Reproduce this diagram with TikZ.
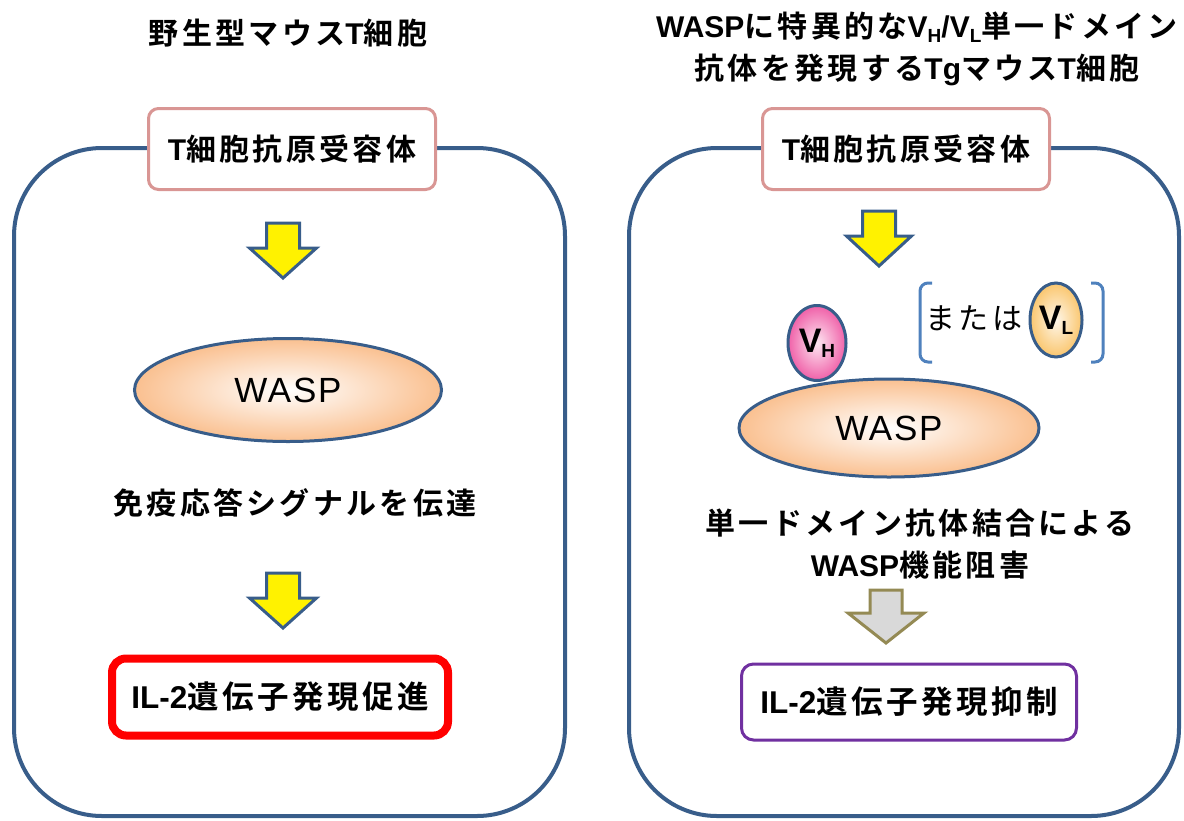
\documentclass[tikz,border=0pt]{standalone}
\usepackage{fontspec}
\setmainfont{Noto Sans CJK JP}[LetterSpace=11,BoldFont={Noto Sans CJK JP Bold}]
\newfontfamily\arialf{Liberation Sans}
\newfontfamily\arialsp{Liberation Sans}[LetterSpace=5]
\usetikzlibrary{shapes.geometric}
\definecolor{frameblue}{HTML}{385D8A}
\definecolor{pinkb}{HTML}{D99694}
\definecolor{purpleb}{HTML}{7030A0}
\definecolor{bracketb}{HTML}{4F81BD}
\definecolor{grayfill}{HTML}{D9D9D9}
\definecolor{olive}{HTML}{948A54}
\definecolor{peach}{HTML}{FAC090}
\definecolor{vhpink}{RGB}{240,96,168}
\definecolor{vlorange}{RGB}{250,198,110}
\newcommand\sub[1]{\raisebox{-5pt}{\fontsize{19}{19}\selectfont #1}}
\newcommand\lt[1]{{\arialf\bfseries #1}}
\newcommand\blockarrow[7]{\draw[#1] ({#2-#4},#3) -- ({#2+#4},#3) -- ({#2+#4},{#3+#6}) -- ({#2+#5},{#3+#6}) -- (#2,{#3+#7}) -- ({#2-#5},{#3+#6}) -- ({#2-#4},{#3+#6}) -- cycle;}
\tikzset{
  cellframe/.style={draw=frameblue, line width=4pt, rounded corners=88pt},
  txt/.style={font=\bfseries\fontsize{30}{42}\selectfont, align=center, inner sep=0pt},
  bigtxt/.style={font=\bfseries\fontsize{31.5}{42}\selectfont, align=center, inner sep=0pt},
  topbox/.style={draw=pinkb, line width=3pt, fill=white, rounded corners=10pt, minimum width=287pt, minimum height=81pt, txt},
  waspell/.style={ellipse, draw=frameblue, line width=3pt, inner color=white, outer color=peach, font=\arialsp\fontsize{35}{40}\selectfont},
  yarrow/.style={draw=frameblue, line width=3pt, fill=yellow, miter limit=10},
  garrow/.style={draw=olive, line width=3pt, fill=grayfill},
  vell/.style={ellipse, draw=frameblue, line width=3pt, minimum width=58pt, minimum height=75pt, inner sep=0pt, font=\arialf\bfseries\fontsize{34}{40}\selectfont},
  bracketline/.style={draw=bracketb, line width=3pt, rounded corners=8pt},
}
\begin{document}
\begin{tikzpicture}[x=1pt,y=-1pt]
\useasboundingbox (0,0) rectangle (1184,820);
% cell frames
\draw[cellframe] (14,148) rectangle (565,816);
\draw[cellframe] (629,148) rectangle (1179,816);
% titles
\node[txt] (titleL) at (288,33) {野生型マウス\lt{T}細胞};
\node[txt] (titleR) at (917,49) {\lt{WASP}に特異的な\lt{V\sub{H}/V\sub{L}}単一ドメイン\\抗体を発現する\lt{Tg}マウス\lt{T}細胞};
% left panel
\node[topbox] (tcrL) at (292,149) {\lt{T}細胞抗原受容体};
\blockarrow{yarrow}{283}{223}{16.5}{33.5}{25}{55}
\node[waspell, minimum width=307pt, minimum height=103pt] (waspL) at (288,390) {WASP};
\node[txt] (sigL) at (295,503) {免疫応答シグナルを伝達};
\blockarrow{yarrow}{283}{573}{16.5}{33.5}{25}{55}
\node[bigtxt, draw=red, line width=8pt, rounded corners=14pt, minimum width=336pt, minimum height=77pt] (il2L) at (280,697) {\lt{IL-2}遺伝子発現促進};
% right panel
\node[topbox] (tcrR) at (906,149) {\lt{T}細胞抗原受容体};
\blockarrow{yarrow}{879}{211}{16.5}{32.5}{25}{55}
\node[waspell, minimum width=300pt, minimum height=98pt] (waspR) at (889,428) {WASP};
\node[vell, inner color=vhpink!15, outer color=vhpink] (vh) at (817,343) {V\sub{H}};
\draw[bracketline] (932,283) -- (920,283) -- (920,362) -- (932,362);
\draw[bracketline] (1091,283) -- (1103,283) -- (1103,362) -- (1091,362);
\node[font=\fontsize{30}{36}\selectfont, inner sep=0pt] (mata) at (974,318) {または};
\node[vell, minimum width=52pt, minimum height=74pt, inner color=vlorange!15, outer color=vlorange] (vl) at (1056,320) {V\sub{L}};
\node[txt] (sigR) at (920,544) {単一ドメイン抗体結合による\\\lt{WASP}機能阻害};
\blockarrow{garrow}{886}{590}{16}{38}{23}{53}
\node[bigtxt, draw=purpleb, line width=3pt, rounded corners=12pt, minimum width=335pt, minimum height=76pt] (il2R) at (909,702) {\lt{IL-2}遺伝子発現抑制};
\end{tikzpicture}
\end{document}
